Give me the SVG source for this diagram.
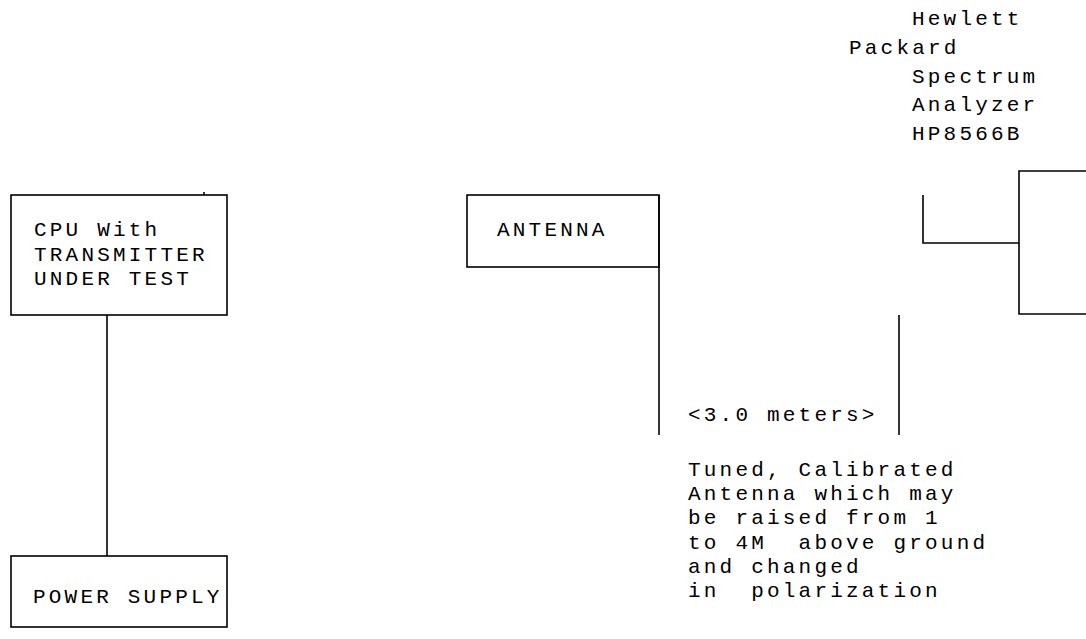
<svg xmlns="http://www.w3.org/2000/svg" width="1086" height="639" viewBox="0 0 1086 639">
<style>
.t{font-family:"Liberation Mono","Courier New",monospace;font-size:21px;letter-spacing:3.2px;fill:#000;white-space:pre}
.b{fill:none;stroke:#000;stroke-width:1.6}
.l{fill:none;stroke:#000;stroke-width:1.6}
</style>
<rect width="1086" height="639" fill="#fff"/>
<g id="cpu">
<rect class="b" x="11" y="195" width="216" height="120"/>
<line class="l" x1="204" y1="192" x2="204" y2="195"/>
<text class="t" x="34" y="236">CPU With</text>
<text class="t" x="34" y="261">TRANSMITTER</text>
<text class="t" x="34" y="285">UNDER TEST</text>
</g>
<g id="power">
<rect class="b" x="11" y="556" width="216" height="71"/>
<text class="t" x="33" y="603">POWER SUPPLY</text>
</g>
<g id="antenna">
<rect class="b" x="467" y="195" width="192" height="72"/>
<text class="t" x="497" y="236">ANTENNA</text>
</g>
<g id="analyzer">
<path class="b" d="M1086,171 H1019 V314 H1086"/>
<text class="t" x="912" y="25">Hewlett</text>
<text class="t" x="849" y="54">Packard</text>
<text class="t" x="912" y="83">Spectrum</text>
<text class="t" x="912" y="111">Analyzer</text>
<text class="t" x="912" y="140">HP8566B</text>
</g>
<g id="distance">
<text class="t" x="688" y="421">&lt;3.0 meters&gt;</text>
</g>
<g id="note">
<text class="t" x="688" y="476">Tuned, Calibrated</text>
<text class="t" x="688" y="500">Antenna which may</text>
<text class="t" x="688" y="524">be raised from 1</text>
<text class="t" x="688" y="549">to 4M  above ground</text>
<text class="t" x="688" y="573">and changed</text>
<text class="t" x="688" y="597">in  polarization</text>
</g>
<g id="connectors">
<line class="l" x1="107" y1="315" x2="107" y2="556"/>
<line class="l" x1="659" y1="195" x2="659" y2="435"/>
<line class="l" x1="899" y1="315" x2="899" y2="435"/>
<polyline class="l" points="923,195 923,243 1019,243"/>
</g>
</svg>
